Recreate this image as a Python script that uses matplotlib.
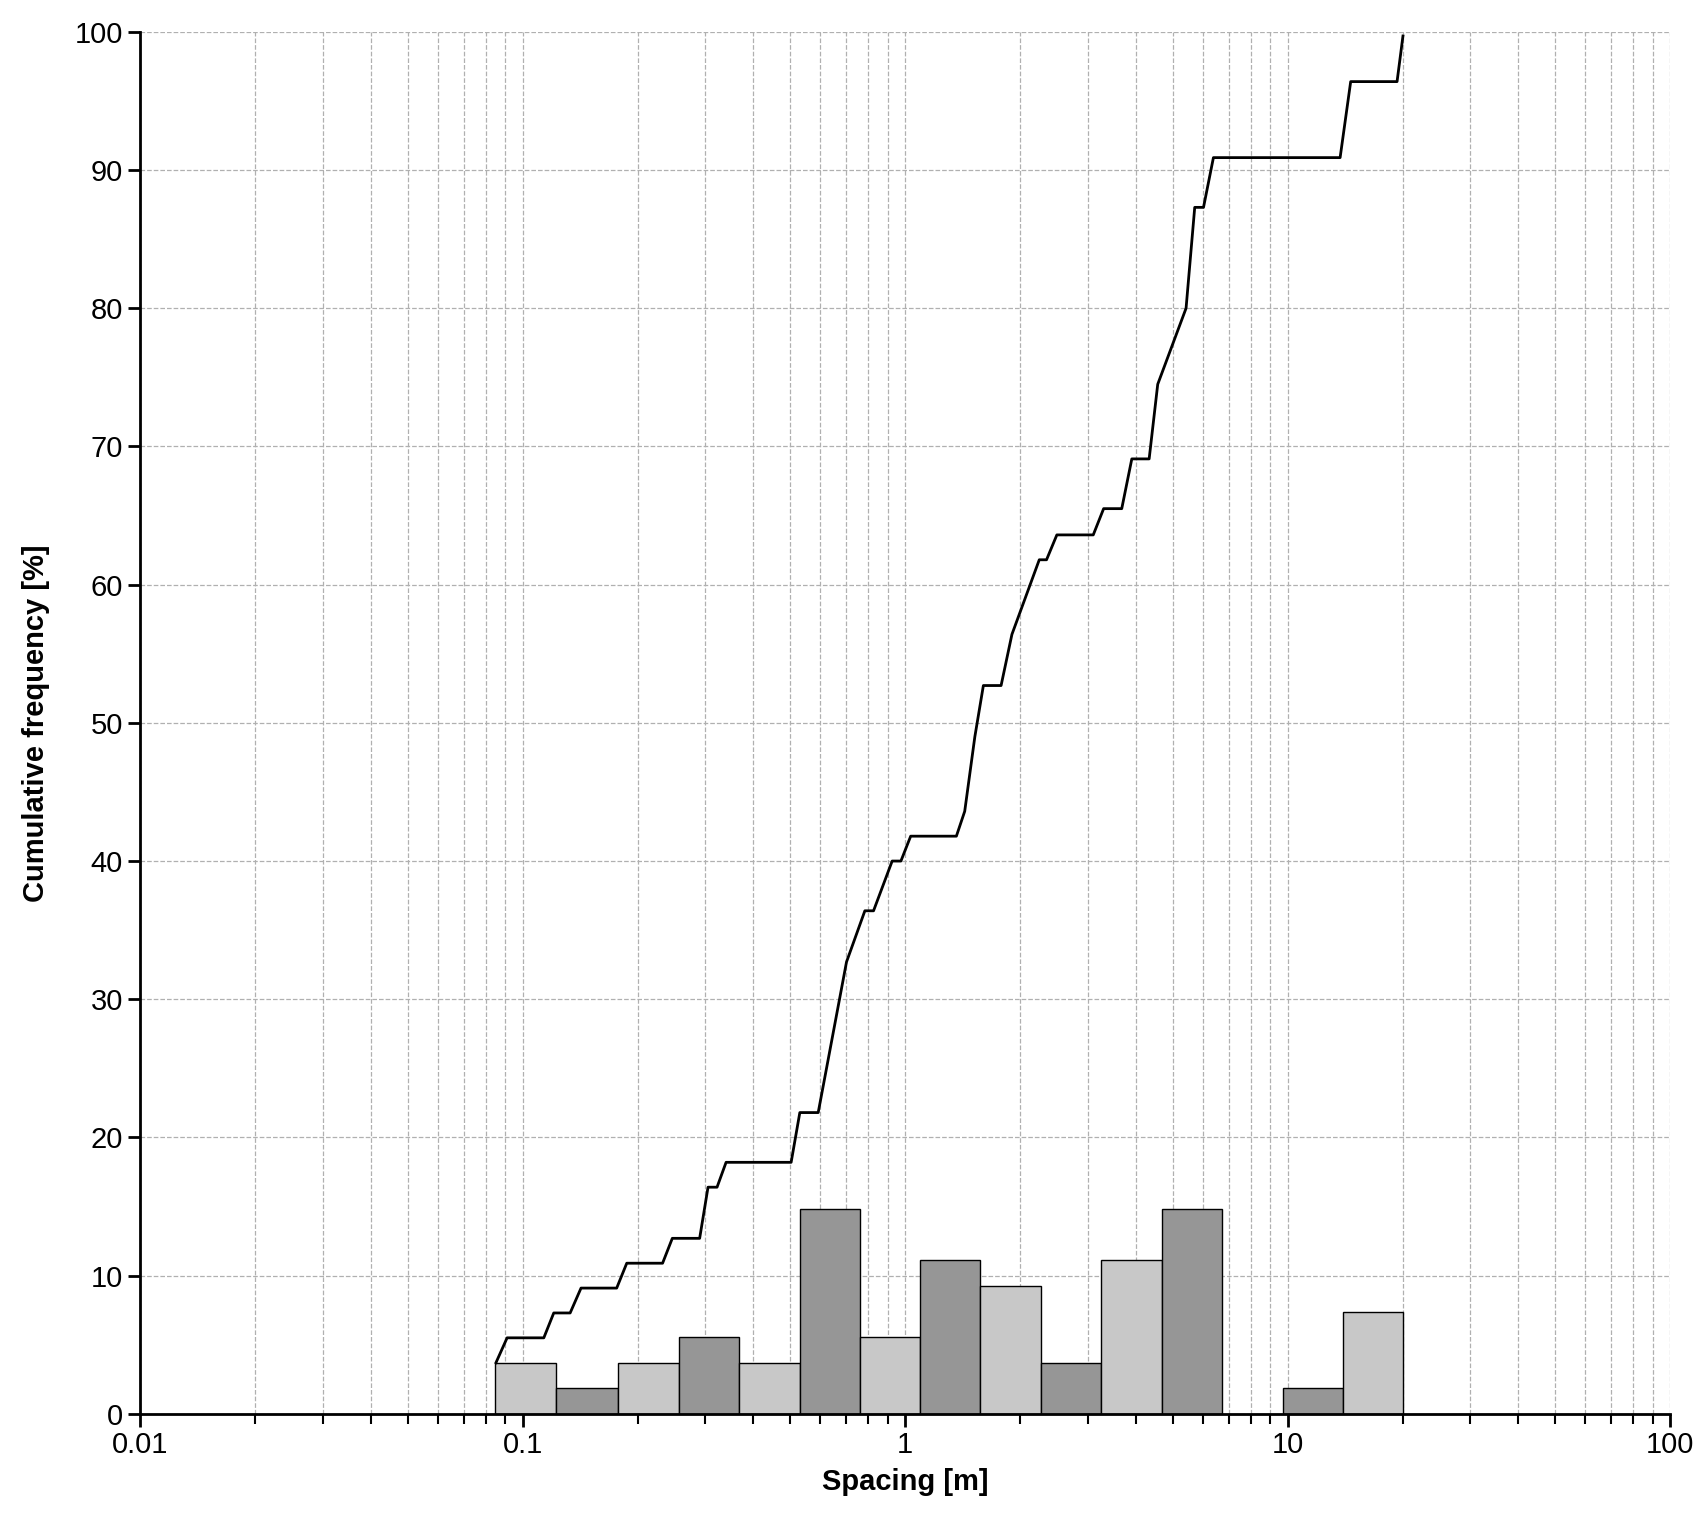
import matplotlib
matplotlib.use("Agg")
import matplotlib.pyplot as plt
import numpy as np
from matplotlib.ticker import LogLocator, FixedLocator, FixedFormatter, NullFormatter

plt.rcParams['font.family'] = ['Liberation Sans', 'DejaVu Sans']

bin_edges = [0.0845, 0.1222, 0.1775, 0.2560, 0.368, 0.530, 0.760, 1.090, 1.57,
             2.27, 3.25, 4.70, 6.73, 9.72, 13.9, 20.0]
bin_pct = [3.7, 1.85, 3.7, 5.55, 3.7, 14.8, 5.55, 11.1, 9.25, 3.7, 11.1, 14.8, 0.0, 1.85, 7.4]

cum_x = [0.0851, 0.0910, 0.1135, 0.1205, 0.133, 0.142, 0.176, 0.187, 0.232, 0.246,
         0.290, 0.305, 0.322, 0.340, 0.503, 0.530, 0.592, 0.702, 0.784, 0.826,
         0.924, 0.974, 1.033, 1.36, 1.43, 1.52, 1.60, 1.78, 1.90, 2.24, 2.34,
         2.49, 3.10, 3.30, 3.68, 3.91, 4.34, 4.57, 5.42, 5.71, 6.02, 6.39,
         13.7, 14.6, 19.3, 20.0]
cum_y = [3.7, 5.5, 5.5, 7.3, 7.3, 9.1, 9.1, 10.9, 10.9, 12.7,
         12.7, 16.4, 16.4, 18.2, 18.2, 21.8, 21.8, 32.7, 36.4, 36.4,
         40.0, 40.0, 41.8, 41.8, 43.6, 49.0, 52.7, 52.7, 56.4, 61.8, 61.8,
         63.6, 63.6, 65.5, 65.5, 69.1, 69.1, 74.5, 80.0, 87.3, 87.3, 90.9,
         90.9, 96.4, 96.4, 99.7]

fig = plt.figure(figsize=(17.02, 15.17), dpi=100)
ax = fig.add_axes([0.0824, 0.068, 0.899, 0.911])

colors = ['#c8c8c8' if i % 2 == 0 else '#969696' for i in range(len(bin_pct))]
edges = np.array(bin_edges)
for i, h in enumerate(bin_pct):
    if h > 0:
        ax.bar(edges[i], h, width=edges[i+1]-edges[i], align='edge',
               color=colors[i], edgecolor='black', linewidth=1, zorder=2)
ax.plot(cum_x, cum_y, color='black', linewidth=2, zorder=3)

ax.set_xscale('log')
ax.set_xlim(0.01, 100)
ax.set_ylim(0, 100)
ax.xaxis.set_major_locator(FixedLocator([0.01, 0.1, 1, 10, 100]))
ax.xaxis.set_major_formatter(FixedFormatter(['0.01', '0.1', '1', '10', '100']))
ax.xaxis.set_minor_locator(LogLocator(base=10, subs=np.arange(2, 10)))
ax.xaxis.set_minor_formatter(NullFormatter())
ax.set_yticks(np.arange(0, 101, 10))
ax.grid(True, which='both', axis='x', linestyle='--', color='#b0b0b0', linewidth=0.9, zorder=0)
ax.grid(True, which='major', axis='y', linestyle='--', color='#b0b0b0', linewidth=0.9, zorder=0)
ax.set_axisbelow(True)
for s in ['top', 'right']:
    ax.spines[s].set_visible(False)
for s in ['left', 'bottom']:
    ax.spines[s].set_linewidth(2)
ax.tick_params(which='major', length=9, width=2, labelsize=21, direction='out')
ax.tick_params(which='minor', length=7, width=1.5, direction='out')
ax.set_xlabel('Spacing [m]', fontsize=21, fontweight='bold', labelpad=6)
ax.set_ylabel('Cumulative frequency [%]', fontsize=21, fontweight='bold', labelpad=18)
fig.savefig('out.png', dpi=100)
